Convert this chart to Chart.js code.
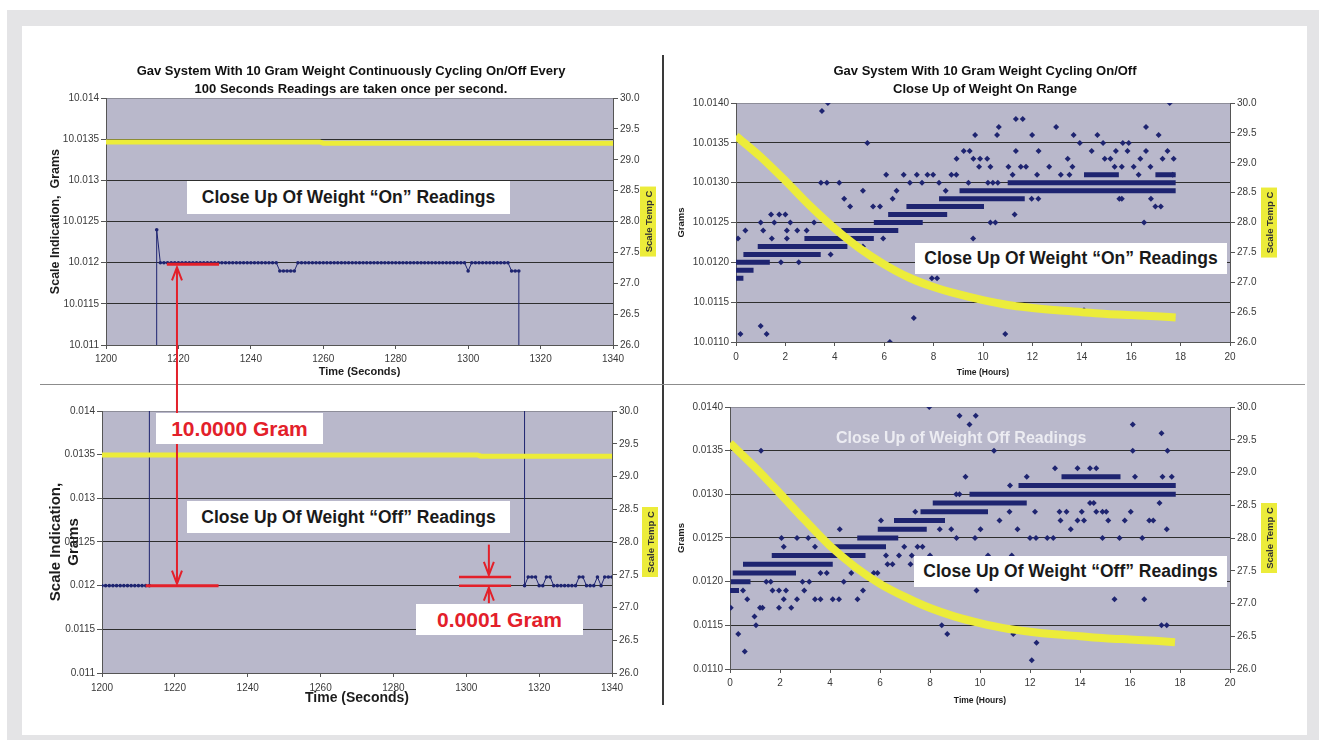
<!DOCTYPE html>
<html>
<head>
<meta charset="utf-8">
<title>Gav System - 10 Gram Weight Cycling</title>
<script src="https://cdn.jsdelivr.net/npm/chart.js@4.4.1/dist/chart.umd.min.js"></script>
<style>
    body { margin: 0; width: 1319px; height: 740px; position: relative; overflow: hidden; background: #fff;
           font-family: "Liberation Sans", Arial, sans-serif; }
    .frame { position: absolute; left: 7px; top: 10px; width: 1312px; height: 730px; background: #e4e4e6; }
    .panel { position: absolute; left: 22px; top: 26px; width: 1285px; height: 709px; background: #fff; }
    canvas { position: absolute; }
    .vdiv { position: absolute; left: 662px; top: 55px; width: 2px; height: 650px; background: #3a3a3a; }
    .hdiv { position: absolute; left: 40px; top: 384px; width: 1265px; height: 1px; background: #8c8c8c; }
    .note { position: absolute; background: #fff; color: #1a1a1a; font-weight: bold; font-size: 17.5px;
            display: flex; align-items: center; justify-content: center; white-space: nowrap; z-index: 5; }
    .red { color: #e3202a; font-size: 21px; }
    .ghost { position: absolute; color: #ececf2; font-weight: bold; font-size: 16px; white-space: nowrap; z-index: 5; }
</style>
</head>
<body>
<div class="frame"></div>
<div class="panel"></div>
<canvas id="onSecondsChart" width="622" height="330" style="left:40px;top:55px"></canvas>
<canvas id="onHoursChart" width="640" height="330" style="left:665px;top:55px"></canvas>
<canvas id="offSecondsChart" width="622" height="325" style="left:40px;top:388px"></canvas>
<canvas id="offHoursChart" width="640" height="325" style="left:665px;top:388px"></canvas>
<div class="vdiv"></div>
<div class="hdiv"></div>
<canvas id="marks" width="1319" height="740" style="left:0;top:0;z-index:4"></canvas>

<div class="note" style="left:187px;top:181px;width:323px;height:33px">Close Up Of Weight “On” Readings</div>
<div class="note" style="left:915px;top:243px;width:312px;height:31px">Close Up Of Weight “On” Readings</div>
<div class="note" style="left:187px;top:501px;width:323px;height:32px">Close Up Of Weight “Off” Readings</div>
<div class="note" style="left:914px;top:556px;width:313px;height:31px">Close Up Of Weight “Off” Readings</div>
<div class="note red" style="left:156px;top:413px;width:167px;height:31px">10.0000 Gram</div>
<div class="note red" style="left:416px;top:604px;width:167px;height:31px">0.0001 Gram</div>
<div class="ghost" style="left:836px;top:429px">Close Up of Weight Off Readings</div>

<script>
// ---- sample times (one reading per second) ----
const seconds = Array.from({ length: 141 }, (_, i) => 1200 + i);

// top left: weight goes on at 1214 s, off after 1314 s
const onCycleGrams = [
    0.012, 0.012, 0.012, 0.012, 0.012, 0.012, 0.012, 0.012, 0.012, 0.012,
    0.012, 0.012, 0.012, 0.012, 10.0124, 10.012, 10.012, 10.012, 10.012, 10.012,
    10.012, 10.012, 10.012, 10.012, 10.012, 10.012, 10.012, 10.012, 10.012, 10.012,
    10.012, 10.012, 10.012, 10.012, 10.012, 10.012, 10.012, 10.012, 10.012, 10.012,
    10.012, 10.012, 10.012, 10.012, 10.012, 10.012, 10.012, 10.012, 10.0119, 10.0119,
    10.0119, 10.0119, 10.0119, 10.012, 10.012, 10.012, 10.012, 10.012, 10.012, 10.012,
    10.012, 10.012, 10.012, 10.012, 10.012, 10.012, 10.012, 10.012, 10.012, 10.012,
    10.012, 10.012, 10.012, 10.012, 10.012, 10.012, 10.012, 10.012, 10.012, 10.012,
    10.012, 10.012, 10.012, 10.012, 10.012, 10.012, 10.012, 10.012, 10.012, 10.012,
    10.012, 10.012, 10.012, 10.012, 10.012, 10.012, 10.012, 10.012, 10.012, 10.012,
    10.0119, 10.012, 10.012, 10.012, 10.012, 10.012, 10.012, 10.012, 10.012, 10.012,
    10.012, 10.012, 10.0119, 10.0119, 10.0119, 0.012, 0.012, 0.012, 0.012, 0.012,
    0.012, 0.012, 0.012, 0.012, 0.012, 0.012, 0.012, 0.012, 0.012, 0.012,
    0.012, 0.012, 0.012, 0.012, 0.012, 0.012, 0.012, 0.012, 0.012, 0.012,
    0.012,
];
const onCycleTempSeconds = [1200, 1259, 1260, 1340];
const onCycleTempC = [29.29, 29.29, 29.27, 29.27];

// bottom left: same cycle seen at the "off" end of the scale
const offCycleGrams = [
    0.012, 0.012, 0.012, 0.012, 0.012, 0.012, 0.012, 0.012, 0.012, 0.012,
    0.012, 0.012, 0.012, 0.012, 10.012, 10.012, 10.012, 10.012, 10.012, 10.012,
    10.012, 10.012, 10.012, 10.012, 10.012, 10.012, 10.012, 10.012, 10.012, 10.012,
    10.012, 10.012, 10.012, 10.012, 10.012, 10.012, 10.012, 10.012, 10.012, 10.012,
    10.012, 10.012, 10.012, 10.012, 10.012, 10.012, 10.012, 10.012, 10.012, 10.012,
    10.012, 10.012, 10.012, 10.012, 10.012, 10.012, 10.012, 10.012, 10.012, 10.012,
    10.012, 10.012, 10.012, 10.012, 10.012, 10.012, 10.012, 10.012, 10.012, 10.012,
    10.012, 10.012, 10.012, 10.012, 10.012, 10.012, 10.012, 10.012, 10.012, 10.012,
    10.012, 10.012, 10.012, 10.012, 10.012, 10.012, 10.012, 10.012, 10.012, 10.012,
    10.012, 10.012, 10.012, 10.012, 10.012, 10.012, 10.012, 10.012, 10.012, 10.012,
    10.012, 10.012, 10.012, 10.012, 10.012, 10.012, 10.012, 10.012, 10.012, 10.012,
    10.012, 10.012, 10.012, 10.012, 10.012, 10.012, 0.012, 0.0121, 0.0121, 0.0121,
    0.012, 0.012, 0.0121, 0.0121, 0.012, 0.012, 0.012, 0.012, 0.012, 0.012,
    0.012, 0.0121, 0.0121, 0.012, 0.012, 0.012, 0.0121, 0.012, 0.0121, 0.0121,
    0.0121,
];
const offCycleTempSeconds = [1200, 1303, 1304, 1340];
const offCycleTempC = [29.33, 29.33, 29.31, 29.31];

// red markers, in data units
const onMarkSeconds = [1216.8, 1231.2];
const onMarkGrams = 10.01198;
const offMarkSeconds = [1212, 1232];
const offMarkGrams = 0.012;
const stepArrowSecond = 1219.6;
const resolutionSeconds = [1298, 1312.3];
const resolutionGrams = [0.0121, 0.012];
const resolutionArrowSecond = 1306.2;
const resolutionArrowFrom = [0.01247, 0.0118];

// ---- 18 hour runs (hours) ----
const tempHours = [0, 1, 2, 3, 4, 5, 6, 7, 8, 9, 10, 11, 12, 13, 14, 15, 16, 17, 17.8];
const onRunTempC = [29.45, 29.1, 28.7, 28.28, 27.9, 27.57, 27.3, 27.08, 26.92, 26.8,
    26.7, 26.62, 26.57, 26.53, 26.5, 26.47, 26.45, 26.43, 26.41];
const offRunTempC = [29.45, 29.08, 28.68, 28.27, 27.88, 27.56, 27.3, 27.1, 26.93, 26.8,
    26.7, 26.62, 26.57, 26.53, 26.5, 26.47, 26.45, 26.43, 26.41];

// dense rows of readings: start hour, end hour, reading
const onBandStart = [0, 0, 0, 0.3, 0.88, 2.77, 4.26, 5.58, 6.16, 6.9, 8.22, 9.05, 11.0, 14.09, 16.98];
const onBandEnd = [0.3, 0.71, 1.37, 3.43, 4.51, 5.58, 6.57, 7.56, 8.55, 10.04, 11.69, 17.8, 17.8, 15.5, 17.8];
const onBandGrams = [10.0118, 10.0119, 10.012, 10.0121, 10.0122, 10.0123, 10.0124, 10.0125,
    10.0126, 10.0127, 10.0128, 10.0129, 10.013, 10.0131, 10.0131];

const offBandStart = [0, 0.03, 0.11, 0.52, 1.67, 3.95, 5.09, 5.91, 6.56, 7.62, 8.11, 9.58, 11.54, 13.26];
const offBandEnd = [0.36, 0.82, 2.64, 4.11, 5.42, 6.24, 6.73, 7.87, 8.6, 10.32, 11.87, 17.83, 17.83, 15.62];
const offBandGrams = [0.0119, 0.012, 0.0121, 0.0122, 0.0123, 0.0124, 0.0125, 0.0126, 0.0127,
    0.0128, 0.0129, 0.013, 0.0131, 0.0132];

// scattered single readings [hour, grams]
const onDots = [
    [0.08, 10.0123], [0.18, 10.0111], [0.38, 10.0124], [1.0, 10.0125], [1.1, 10.0124], [1.0, 10.0112],
    [1.24, 10.0111], [1.42, 10.0126], [1.45, 10.0123], [1.55, 10.0125], [1.75, 10.0126], [1.82, 10.012],
    [2.0, 10.0126], [2.06, 10.0124], [2.06, 10.0123], [2.2, 10.0125], [2.48, 10.0124], [2.54, 10.012],
    [2.86, 10.0124], [3.16, 10.0125], [3.44, 10.013], [3.68, 10.013], [3.48, 10.0139], [3.72, 10.014],
    [3.83, 10.0121], [4.18, 10.013], [4.38, 10.0128], [4.62, 10.0127], [4.98, 10.0122], [5.14, 10.0129],
    [5.14, 10.0122], [5.32, 10.0135], [5.55, 10.0127], [5.83, 10.0127], [5.96, 10.0123], [6.08, 10.0131],
    [6.23, 10.011], [6.34, 10.0128], [6.5, 10.0129], [6.79, 10.0131], [7.04, 10.013], [7.2, 10.0113],
    [7.32, 10.0131], [7.53, 10.013], [7.75, 10.0131], [7.93, 10.0118], [7.98, 10.0131], [8.14, 10.0118],
    [8.22, 10.013], [8.49, 10.0129], [8.72, 10.0131], [8.92, 10.0131], [8.93, 10.0133], [9.22, 10.0134],
    [9.41, 10.013], [9.46, 10.0134], [9.6, 10.0123], [9.61, 10.0133], [9.68, 10.0136], [9.84, 10.0132],
    [9.88, 10.0133], [10.17, 10.0133], [10.2, 10.013], [10.3, 10.0132], [10.3, 10.0125], [10.4, 10.013],
    [10.5, 10.0125], [10.57, 10.0136], [10.6, 10.013], [10.64, 10.0137], [10.9, 10.0111], [11.03, 10.0132],
    [11.2, 10.0131], [11.28, 10.0126], [11.33, 10.0134], [11.33, 10.0138], [11.53, 10.0132], [11.61, 10.0138],
    [11.74, 10.0132], [11.97, 10.0128], [11.99, 10.0136], [12.19, 10.0131], [12.24, 10.0128], [12.25, 10.0134],
    [12.68, 10.0132], [12.96, 10.0137], [13.15, 10.0131], [13.43, 10.0133], [13.5, 10.0131], [13.62, 10.0132],
    [13.67, 10.0136], [13.92, 10.0135], [14.09, 10.0114], [14.4, 10.0134], [14.63, 10.0136], [14.86, 10.0135],
    [14.93, 10.0133], [15.16, 10.0133], [15.33, 10.0132], [15.38, 10.0134], [15.52, 10.0128], [15.62, 10.0128],
    [15.62, 10.0132], [15.66, 10.0135], [15.85, 10.0134], [15.9, 10.0135], [16.1, 10.0132], [16.3, 10.0131],
    [16.37, 10.0133], [16.52, 10.0125], [16.6, 10.0137], [16.6, 10.0134], [16.78, 10.0132], [16.8, 10.0128],
    [16.98, 10.0127], [17.11, 10.0136], [17.2, 10.0127], [17.27, 10.0133], [17.47, 10.0134], [17.56, 10.014],
    [17.68, 10.0131], [17.72, 10.0133],
];

const offDots = [
    [0.03, 0.0117], [0.33, 0.0114], [0.59, 0.0112], [0.52, 0.0119], [0.69, 0.0118], [0.98, 0.0116],
    [1.04, 0.0115], [1.01, 0.0133], [1.24, 0.0135], [1.2, 0.0117], [1.3, 0.0117], [1.45, 0.012],
    [1.63, 0.012], [1.7, 0.0119], [1.96, 0.0119], [1.96, 0.0117], [2.06, 0.0125], [2.15, 0.0124],
    [2.15, 0.0118], [2.24, 0.0119], [2.45, 0.0117], [2.68, 0.0125], [2.68, 0.0118], [2.9, 0.012],
    [2.97, 0.0119], [3.13, 0.0125], [3.17, 0.012], [3.4, 0.0124], [3.4, 0.0118], [3.62, 0.0118],
    [3.67, 0.0125], [3.62, 0.0121], [3.87, 0.0121], [4.11, 0.0118], [4.36, 0.0118], [4.39, 0.0126],
    [4.55, 0.012], [4.85, 0.0121], [5.1, 0.0118], [5.32, 0.0119], [5.75, 0.0121], [5.9, 0.0121],
    [6.04, 0.0127], [6.24, 0.0123], [6.3, 0.0122], [6.5, 0.0122], [6.76, 0.0123], [6.97, 0.0124],
    [7.22, 0.0122], [7.27, 0.0123], [7.41, 0.0128], [7.5, 0.0124], [7.7, 0.0124], [7.97, 0.014],
    [8.0, 0.0123], [8.39, 0.0126], [8.47, 0.0115], [8.69, 0.0114], [8.85, 0.0126], [9.05, 0.013],
    [9.06, 0.0125], [9.18, 0.0139], [9.18, 0.013], [9.42, 0.0132], [9.58, 0.0138], [9.8, 0.0125],
    [9.83, 0.0139], [9.86, 0.0119], [10.02, 0.0126], [10.32, 0.0123], [10.56, 0.0135], [10.78, 0.0127],
    [11.18, 0.0128], [11.2, 0.0131], [11.27, 0.0123], [11.33, 0.0114], [11.5, 0.0126], [11.87, 0.0132],
    [12.0, 0.0125], [12.07, 0.0111], [12.2, 0.0128], [12.24, 0.0125], [12.26, 0.0113], [12.69, 0.0125],
    [12.93, 0.0125], [13.0, 0.0133], [13.18, 0.0128], [13.22, 0.0127], [13.46, 0.0128], [13.63, 0.0126],
    [13.9, 0.0127], [13.9, 0.0133], [14.07, 0.0128], [14.16, 0.0127], [14.4, 0.0133], [14.4, 0.0129],
    [14.55, 0.0129], [14.65, 0.0133], [14.65, 0.0128], [14.9, 0.0128], [14.9, 0.0125], [15.05, 0.0128],
    [15.13, 0.0127], [15.38, 0.0118], [15.58, 0.0125], [15.79, 0.0127], [16.03, 0.0128], [16.11, 0.0138],
    [16.11, 0.0135], [16.2, 0.0132], [16.49, 0.0125], [16.57, 0.0118], [16.77, 0.0127], [16.93, 0.0127],
    [17.18, 0.0129], [17.26, 0.0137], [17.26, 0.0115], [17.3, 0.0132], [17.47, 0.0115], [17.47, 0.0126],
    [17.5, 0.0135], [17.67, 0.0132],
];

// ---- look ----
const FONT = "'Liberation Sans', Arial, sans-serif";
const PLOT_BG = "#b9b8cb";
const NAVY = "#1e2470";
const YELLOW = "#ecec3a";
const AXIS = "#555";
const TICK_TEXT = "#3a3a3a";
Chart.defaults.font.family = FONT;

const plotBackground = {
    id: "plotBackground",
    beforeDraw(chart) {
        const { ctx, chartArea: a } = chart;
        ctx.save();
        ctx.fillStyle = PLOT_BG;
        ctx.fillRect(a.left, a.top, a.right - a.left, a.bottom - a.top);
        ctx.restore();
    },
};

// yellow label of the temperature axis (reads bottom to top)
const tempAxisLabel = {
    id: "tempAxisLabel",
    afterDraw(chart, args, opts) {
        const { ctx, chartArea: a } = chart;
        const cx = a.right + opts.offset;
        const cy = (a.top + a.bottom) / 2;
        ctx.save();
        ctx.fillStyle = YELLOW;
        ctx.fillRect(cx - 8, cy - 35, 16, 70);
        ctx.translate(cx, cy);
        ctx.rotate(-Math.PI / 2);
        ctx.fillStyle = "#333";
        ctx.font = "bold 9.5px " + FONT;
        ctx.textAlign = "center";
        ctx.textBaseline = "middle";
        ctx.fillText(opts.text, 0, 1);
        ctx.restore();
    },
};

function pairs(xs, ys) {
    return xs.map((x, i) => ({ x: x, y: ys[i] }));
}

function bandPoints(starts, ends, levels) {
    const pts = [];
    starts.forEach((s, i) => {
        pts.push({ x: s, y: levels[i] }, { x: ends[i], y: levels[i] }, { x: ends[i], y: null });
    });
    return pts;
}

// layout numbers: plot area edges inside each canvas
function buildScales(o) {
    return {
        x: {
            type: "linear",
            min: o.xMin,
            max: o.xMax,
            ticks: {
                stepSize: o.xStep,
                font: { size: 10 },
                color: TICK_TEXT,
                padding: o.xTickPad,
                maxRotation: 0,
                callback: (v) => String(v),
            },
            grid: { drawOnChartArea: false, tickLength: 4, color: AXIS },
            border: { color: AXIS },
            title: {
                display: true,
                text: o.xTitle,
                font: { size: o.xTitleSize, weight: "bold" },
                color: "#1c1c1c",
                padding: { top: 0, bottom: o.xTitlePad },
            },
            afterFit: (s) => { s.height = o.xHeight; },
        },
        y: {
            min: o.yMin,
            max: o.yMax,
            ticks: {
                stepSize: 0.0005,
                font: { size: 10 },
                color: TICK_TEXT,
                padding: 2,
                callback: o.yLabel,
            },
            grid: {
                color: (c) => (c.index === c.scale.ticks.length - 1 ? "#8d8d99" : "#2e2e2e"),
                tickLength: 5,
                tickColor: AXIS,
            },
            border: { color: AXIS },
            title: {
                display: true,
                text: o.yTitle,
                font: { size: o.yTitleSize, weight: "bold" },
                color: "#1c1c1c",
                padding: { top: o.yTitlePad, bottom: 0 },
            },
            afterFit: (s) => { s.width = o.yWidth; },
        },
        y2: {
            position: "right",
            min: 26,
            max: 30,
            ticks: {
                stepSize: 0.5,
                font: { size: 10 },
                color: TICK_TEXT,
                padding: 2,
                callback: (v) => v.toFixed(1),
            },
            grid: { drawOnChartArea: false, tickLength: 5, color: AXIS },
            border: { color: AXIS },
            afterFit: (s) => { s.width = o.y2Width; },
        },
    };
}

function baseOptions(scales, layoutTop, title, labelOffset) {
    return {
        responsive: false,
        animation: false,
        events: [],
        layout: { padding: { top: layoutTop, left: 0, right: 0, bottom: 0 } },
        scales: scales,
        plugins: {
            legend: { display: false },
            tooltip: { enabled: false },
            title: title,
            tempAxisLabel: { offset: labelOffset, text: "Scale Temp C" },
        },
    };
}

const plain4 = (v) => String(Number(v.toFixed(4)));
const fixed4 = (v) => v.toFixed(4);

document.addEventListener("DOMContentLoaded", function () {
    const onSecondsChart = new Chart(document.getElementById("onSecondsChart"), {
        type: "scatter",
        data: {
            datasets: [
                {
                    label: "Scale Temp C",
                    data: pairs(onCycleTempSeconds, onCycleTempC),
                    yAxisID: "y2",
                    showLine: true,
                    borderColor: YELLOW,
                    borderWidth: 5,
                    pointRadius: 0,
                },
                {
                    label: "Scale Indication",
                    data: pairs(seconds, onCycleGrams),
                    showLine: true,
                    borderColor: NAVY,
                    backgroundColor: NAVY,
                    borderWidth: 1,
                    pointRadius: 1.8,
                    pointBorderWidth: 0,
                },
            ],
        },
        options: baseOptions(
            buildScales({
                xMin: 1200, xMax: 1340, xStep: 20, xTickPad: 4, xTitle: "Time (Seconds)", xTitleSize: 11,
                xTitlePad: 6.4, xHeight: 40,
                yMin: 10.011, yMax: 10.014, yLabel: plain4, yTitle: "Scale Indication,  Grams", yTitleSize: 12.5,
                yTitlePad: 8.5, yWidth: 66, y2Width: 49,
            }),
            0,
            {
                display: true,
                text: [
                    "Gav System With 10 Gram Weight Continuously Cycling On/Off Every",
                    "100 Seconds Readings are taken once per second.",
                ],
                font: { size: 13, weight: "bold", lineHeight: 1.35 },
                color: "#111",
                padding: { top: 8, bottom: 0 },
            },
            35
        ),
        plugins: [plotBackground, tempAxisLabel],
    });

    new Chart(document.getElementById("onHoursChart"), {
        type: "scatter",
        data: {
            datasets: [
                {
                    label: "Scale Temp C",
                    data: pairs(tempHours, onRunTempC),
                    yAxisID: "y2",
                    showLine: true,
                    cubicInterpolationMode: "monotone",
                    borderColor: YELLOW,
                    borderWidth: 8,
                    pointRadius: 0,
                },
                {
                    label: "Readings",
                    data: onDots.map((d) => ({ x: d[0], y: d[1] })),
                    pointStyle: "rectRot",
                    pointRadius: 3,
                    pointBorderWidth: 0,
                    backgroundColor: NAVY,
                },
                {
                    label: "Reading rows",
                    data: bandPoints(onBandStart, onBandEnd, onBandGrams),
                    showLine: true,
                    spanGaps: false,
                    borderColor: NAVY,
                    borderWidth: 5,
                    pointRadius: 0,
                },
            ],
        },
        options: baseOptions(
            buildScales({
                xMin: 0, xMax: 20, xStep: 2, xTickPad: 5, xTitle: "Time (Hours)", xTitleSize: 8.5,
                xTitlePad: 6.9, xHeight: 43,
                yMin: 10.011, yMax: 10.014, yLabel: fixed4, yTitle: "Grams", yTitleSize: 9.5,
                yTitlePad: 10.3, yWidth: 71, y2Width: 75,
            }),
            0,
            {
                display: true,
                text: ["Gav System With 10 Gram Weight Cycling On/Off", "Close Up of Weight On Range"],
                font: { size: 13, weight: "bold", lineHeight: 1.35 },
                color: "#111",
                padding: { top: 8, bottom: 5 },
            },
            39
        ),
        plugins: [plotBackground, tempAxisLabel],
    });

    const offSecondsChart = new Chart(document.getElementById("offSecondsChart"), {
        type: "scatter",
        data: {
            datasets: [
                {
                    label: "Scale Temp C",
                    data: pairs(offCycleTempSeconds, offCycleTempC),
                    yAxisID: "y2",
                    showLine: true,
                    borderColor: YELLOW,
                    borderWidth: 5,
                    pointRadius: 0,
                },
                {
                    label: "Scale Indication",
                    data: pairs(seconds, offCycleGrams),
                    showLine: true,
                    borderColor: NAVY,
                    backgroundColor: NAVY,
                    borderWidth: 1,
                    pointRadius: 1.8,
                    pointBorderWidth: 0,
                },
            ],
        },
        options: baseOptions(
            buildScales({
                xMin: 1200, xMax: 1340, xStep: 20, xTickPad: 5, xTitle: "Time (Seconds)", xTitleSize: 14,
                xTitlePad: 6.6, xHeight: 40,
                yMin: 0.011, yMax: 0.014, yLabel: plain4, yTitle: ["Scale Indication,", "Grams"], yTitleSize: 15,
                yTitlePad: 7, yWidth: 62, y2Width: 50,
            }),
            23,
            { display: false },
            38
        ),
        plugins: [plotBackground, tempAxisLabel],
    });

    new Chart(document.getElementById("offHoursChart"), {
        type: "scatter",
        data: {
            datasets: [
                {
                    label: "Scale Temp C",
                    data: pairs(tempHours, offRunTempC),
                    yAxisID: "y2",
                    showLine: true,
                    cubicInterpolationMode: "monotone",
                    borderColor: YELLOW,
                    borderWidth: 8,
                    pointRadius: 0,
                },
                {
                    label: "Readings",
                    data: offDots.map((d) => ({ x: d[0], y: d[1] })),
                    pointStyle: "rectRot",
                    pointRadius: 3,
                    pointBorderWidth: 0,
                    backgroundColor: NAVY,
                },
                {
                    label: "Reading rows",
                    data: bandPoints(offBandStart, offBandEnd, offBandGrams),
                    showLine: true,
                    spanGaps: false,
                    borderColor: NAVY,
                    borderWidth: 5,
                    pointRadius: 0,
                },
            ],
        },
        options: baseOptions(
            buildScales({
                xMin: 0, xMax: 20, xStep: 2, xTickPad: 4, xTitle: "Time (Hours)", xTitleSize: 8.5,
                xTitlePad: 6.9, xHeight: 44,
                yMin: 0.011, yMax: 0.014, yLabel: fixed4, yTitle: "Grams", yTitleSize: 9.5,
                yTitlePad: 10.3, yWidth: 65, y2Width: 75,
            }),
            19,
            { display: false },
            39
        ),
        plugins: [plotBackground, tempAxisLabel],
    });

    drawRedMarks(onSecondsChart, offSecondsChart);
});

// red annotation lines and arrows, placed through the chart scales
function drawRedMarks(onChart, offChart) {
    const ctx = document.getElementById("marks").getContext("2d");
    const gx = (ch, v) => ch.canvas.offsetLeft + ch.scales.x.getPixelForValue(v);
    const gy = (ch, v) => ch.canvas.offsetTop + ch.scales.y.getPixelForValue(v);
    ctx.strokeStyle = "#e3202a";

    function seg(x1, y1, x2, y2, w) {
        ctx.lineWidth = w;
        ctx.beginPath();
        ctx.moveTo(x1, y1);
        ctx.lineTo(x2, y2);
        ctx.stroke();
    }
    function head(x, y, dir) {
        // dir 1: tip points down, -1: tip points up
        ctx.lineWidth = 2;
        ctx.beginPath();
        ctx.moveTo(x - 5, y - dir * 13);
        ctx.lineTo(x, y);
        ctx.lineTo(x + 5, y - dir * 13);
        ctx.stroke();
    }

    const yOn = gy(onChart, onMarkGrams);
    const yOff = gy(offChart, offMarkGrams);
    seg(gx(onChart, onMarkSeconds[0]), yOn, gx(onChart, onMarkSeconds[1]), yOn, 3);
    seg(gx(offChart, offMarkSeconds[0]), yOff, gx(offChart, offMarkSeconds[1]), yOff, 3);

    const ax = gx(onChart, stepArrowSecond);
    seg(ax, yOn + 3, ax, yOff - 2, 2);
    head(ax, yOn + 3, -1);
    head(ax, yOff - 2, 1);

    const r1 = gy(offChart, resolutionGrams[0]);
    const r2 = gy(offChart, resolutionGrams[1]);
    const rx1 = gx(offChart, resolutionSeconds[0]);
    const rx2 = gx(offChart, resolutionSeconds[1]);
    seg(rx1, r1, rx2, r1, 2.5);
    seg(rx1, r2, rx2, r2, 2.5);
    const rax = gx(offChart, resolutionArrowSecond);
    const rTop = gy(offChart, resolutionArrowFrom[0]);
    const rBottom = gy(offChart, resolutionArrowFrom[1]);
    seg(rax, rTop, rax, r1 - 2, 2);
    head(rax, r1 - 2, 1);
    seg(rax, rBottom, rax, r2 + 2, 2);
    head(rax, r2 + 2, -1);
}
</script>
</body>
</html>
